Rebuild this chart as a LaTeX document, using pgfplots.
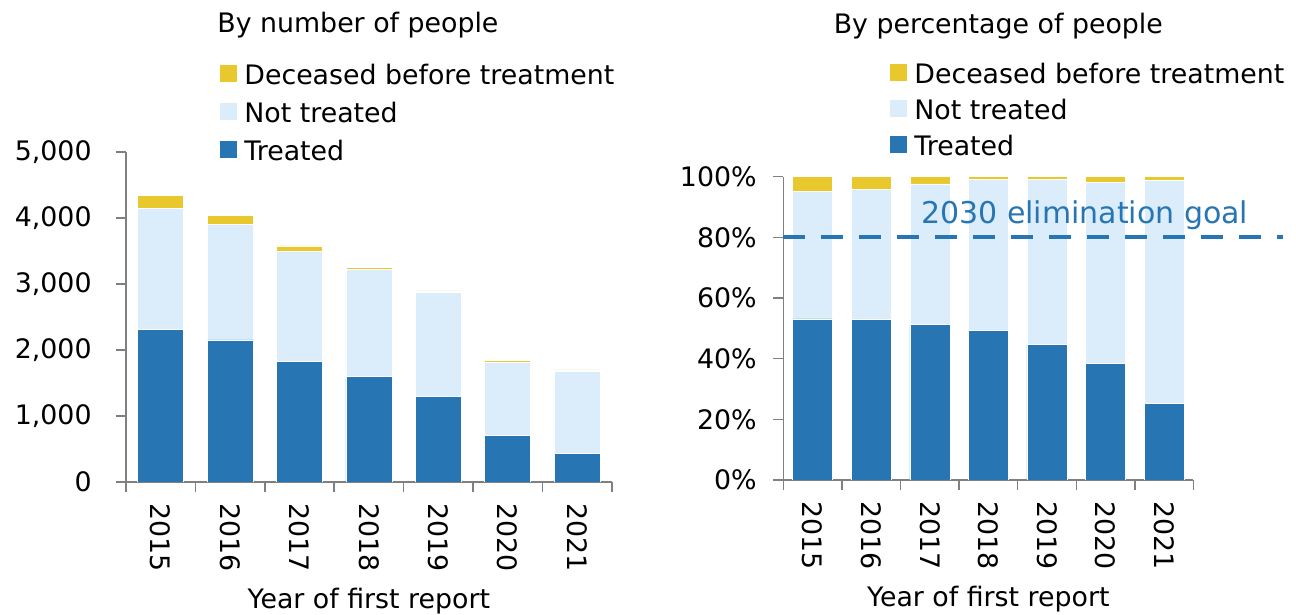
\documentclass[border=0pt]{standalone}
\usepackage{fontspec}
\setmainfont{DejaVu Sans}
\usepackage{pgfplots}
\pgfplotsset{compat=1.18}
\definecolor{treated}{HTML}{2776B3}
\definecolor{nottreated}{HTML}{DBEDFA}
\definecolor{deceased}{HTML}{E8C82C}
\definecolor{axisgray}{HTML}{808080}
\pgfplotsset{
  sqlegend/.style={legend image code/.code={\path[fill=none, draw=none] (0pt,-3pt) rectangle (8.5pt,10pt);\fill[##1, draw=none] (0pt,-2.5pt) rectangle (8.5pt,6pt);}},
  base/.style={
    scale only axis, ybar stacked, xmin=-0.5, xmax=6.5, ymin=0,
    axis lines*=left, axis line style={axisgray, line width=0.75pt},
    tick align=outside, major tick length=5pt, minor tick length=5pt,
    xtick={0,1,2,3,4,5,6}, xticklabels={2015,2016,2017,2018,2019,2020,2021},
    minor xtick={-0.5,0.5,1.5,2.5,3.5,4.5,5.5,6.5},
    major x tick style={draw=none}, minor x tick style={axisgray, line width=0.75pt},
    ytick style={axisgray, line width=0.75pt},
    xticklabel style={rotate=-90, anchor=west, inner xsep=5.5pt, inner ysep=0pt},
    yticklabel style={anchor=east, inner sep=0pt},
    /pgf/number format/assume math mode=true,
    legend cell align=left, reverse legend,
    legend style={draw=none, fill=none, inner sep=0pt, column sep=3.5pt,
      nodes={inner sep=0pt, text height=10pt, text depth=3pt}},
    every axis plot/.append style={draw=white, line width=0.3pt},
  }
}
\begin{document}
\begin{tikzpicture}[font=\fontsize{13.4}{16}\selectfont]
\useasboundingbox (-63pt,-66.5pt) rectangle (585pt,241pt);
% Left panel: by number of people
\begin{axis}[base, at={(0pt,0pt)}, anchor=south west, width=242.9pt, height=165pt,
  ymax=5000, ytick={0,1000,2000,3000,4000,5000}, bar width=23pt,
  /pgf/number format/1000 sep={,},
  yticklabel style={xshift=-12pt},
  legend style={at={(axis description cs:0.1935,1.2889)}, anchor=north west, row sep=2.5pt},
  xlabel={Year of first report},
  xlabel style={at={(axis description cs:0.5,-0.382)}, anchor=base, inner sep=0pt}]
\addplot[fill=treated, sqlegend] coordinates {(0,2318) (1,2152) (2,1833) (3,1596) (4,1298) (5,702) (6,434)};
\addlegendentry{Treated}
\addplot[fill=nottreated, sqlegend] coordinates {(0,1823) (1,1747) (2,1662) (3,1626) (4,1576) (5,1106) (6,1248)};
\addlegendentry{Not treated}
\addplot[fill=deceased, sqlegend] coordinates {(0,207) (1,146) (2,81) (3,25) (4,22) (5,30) (6,18)};
\addlegendentry{Deceased before treatment}
\end{axis}
% Right panel: by percentage of people
\begin{axis}[base, at={(328.7pt,1pt)}, anchor=south west, width=205pt, height=151.7pt,
  ymax=100, ytick={0,20,40,60,80,100}, bar width=20pt,
  yticklabel={\pgfmathprintnumber{\tick}\%},
  yticklabel style={xshift=-8.2pt},
  legend style={at={(axis description cs:0.26,1.3984)}, anchor=north west, row sep=1.5pt},
  xlabel={Year of first report},
  xlabel style={at={(axis description cs:0.5,-0.417)}, anchor=base, inner sep=0pt}]
\addplot[fill=treated, sqlegend] coordinates {(0,53.1) (1,52.9) (2,51.2) (3,49.3) (4,44.8) (5,38.5) (6,25.3)};
\addlegendentry{Treated}
\addplot[fill=nottreated, sqlegend] coordinates {(0,42.0) (1,43.0) (2,46.4) (3,49.9) (4,54.4) (5,59.7) (6,73.5)};
\addlegendentry{Not treated}
\addplot[fill=deceased, sqlegend] coordinates {(0,4.9) (1,4.1) (2,2.4) (3,0.8) (4,0.8) (5,1.8) (6,1.2)};
\addlegendentry{Deceased before treatment}
\end{axis}
% Overlay for the goal line
\begin{axis}[at={(328.7pt,1pt)}, anchor=south west, scale only axis, width=205pt, height=151.7pt,
  xmin=-0.5, xmax=6.5, ymin=0, ymax=100, hide axis, clip=false]
\addplot[treated, line width=2pt, dash pattern=on 11pt off 8pt] coordinates {(-0.5,80) (8.03,80)};
\node[anchor=base west, inner sep=0pt, text=treated, font=\fontsize{15}{18}\selectfont] at (axis cs:1.846,84.7) {2030 elimination goal};
\end{axis}
\node[anchor=base west, inner sep=0pt] at (45.5pt,224.8pt) {By number of people};
\node[anchor=base west, inner sep=0pt] at (353.7pt,224.3pt) {By percentage of people};
\end{tikzpicture}
\end{document}
